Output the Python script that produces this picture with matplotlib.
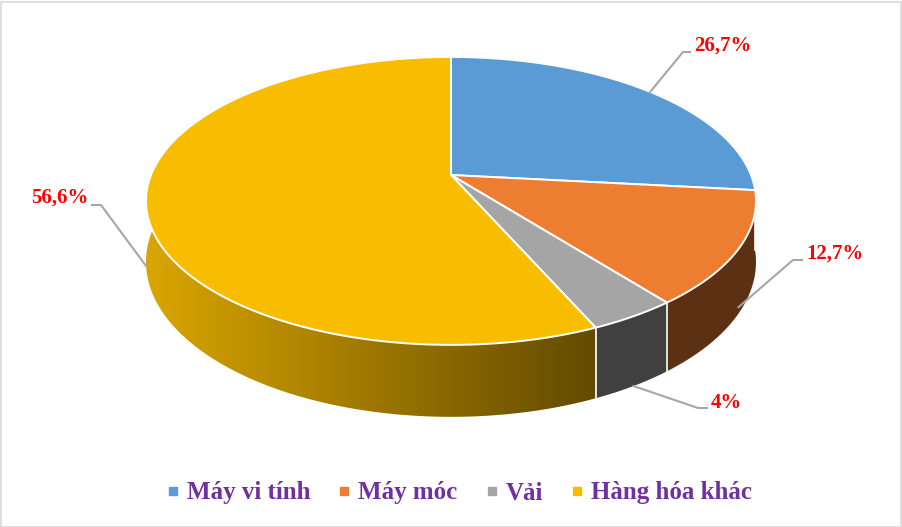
import numpy as np
import matplotlib.pyplot as plt
from matplotlib.patches import Polygon, Rectangle
from matplotlib.lines import Line2D
import matplotlib.colors as mcolors

categories = ['Máy vi tính', 'Máy móc', 'Vải', 'Hàng hóa khác']
shares = [26.7, 12.7, 4.0, 56.6]
labels = ['26,7%', '12,7%', '4%', '56,6%']
colors = ['#5B9BD5', '#ED7D31', '#A5A5A5', '#F9BD00']

# label layout: where the leader touches the slice (0 = top rim, 1 = bottom rim),
# elbow point, end of the short horizontal, text anchor
lab_drop = [0.0, 0.9, 1.0, 1.0]
lab_elbow = [(683, 52), (793, 260), (698, 408), (101, 205)]
lab_end = [(690, 52), (802, 260), (707, 408), (92, 205)]
lab_text = [(694, 46), (806, 254), (711, 403), (89, 198)]
lab_ha = ['left', 'left', 'left', 'right']

# projection of the tilted disk (pixel coordinates)
cx, cy = 451, 175
rx, ry = 300, 139.3
persp = 0.18
depth = 59


def proj(theta, drop=0.0):
    x = np.sin(theta)
    y = -np.cos(theta)
    w = 1 - persp * y
    return cx + rx * x / w, cy + ry * y / w + drop * depth / w


def shade(col, xs):
    f = np.clip(0.87 - 0.47 * (xs - 150) / 440, 0.39, 0.87)
    rgb = np.array(mcolors.to_rgb(col))
    return f[..., None] * rgb


fig = plt.figure(figsize=(9.02, 5.27), dpi=100)
ax = fig.add_axes([0, 0, 1, 1])
ax.set_xlim(0, 902)
ax.set_ylim(527, 0)
ax.axis('off')

fracs = np.array(shares) / sum(shares)
bounds = np.concatenate([[0], np.cumsum(fracs)]) * 2 * np.pi

# side walls with a left-to-right light gradient
lo, hi = np.radians(60), np.radians(300)
for i in range(len(shares)):
    a, b = max(bounds[i], lo), min(bounds[i + 1], hi)
    if b <= a:
        continue
    t = np.linspace(a, b, 300)
    xt, yt = proj(t)
    xb, yb = proj(t, 1)
    pts = list(zip(xt, yt)) + list(zip(xb[::-1], yb[::-1]))
    clip = Polygon(pts, closed=True, facecolor='none', edgecolor='none')
    ax.add_patch(clip)
    x0, x1 = min(xt.min(), xb.min()) - 2, max(xt.max(), xb.max()) + 2
    y0, y1 = min(yt.min(), yb.min()) - 2, max(yt.max(), yb.max()) + 2
    xs = np.linspace(x0, x1, 400)
    img = shade(colors[i], xs)[None, :, :]
    im = ax.imshow(img, extent=(x0, x1, y1, y0), aspect='auto',
                   interpolation='bilinear', zorder=1)
    im.set_clip_path(clip)

# white seams on the wall between front slices
for b in bounds[1:-1]:
    if -np.cos(b) > 0:
        xa, ya = proj(b)
        xb, yb = proj(b, 1)
        ax.plot([xa, xb], [ya, yb], color='white', lw=1.2, zorder=2)

# top faces
for i in range(len(shares)):
    t = np.linspace(bounds[i], bounds[i + 1], 200)
    xs, ys = proj(t)
    pts = [(cx, cy)] + list(zip(xs, ys))
    ax.add_patch(Polygon(pts, closed=True, facecolor=colors[i],
                         edgecolor='white', lw=1.4, joinstyle='round', zorder=3))

ax.set_xlim(0, 902)
ax.set_ylim(527, 0)

# data labels
for i in range(len(shares)):
    mid = (bounds[i] + bounds[i + 1]) / 2
    x0, y0 = proj(mid, lab_drop[i])
    ex, ey = lab_elbow[i]
    fx, fy = lab_end[i]
    ax.plot([x0, ex, fx], [y0, ey, fy], color='#A6A6A6', lw=1.5, zorder=4)
    ax.text(lab_text[i][0], lab_text[i][1], labels[i], ha=lab_ha[i], va='center',
            color='#FF0000', fontsize=15, fontweight='bold',
            family='Liberation Serif', zorder=5)

handles = [Line2D([], [], marker='s', ls='', markersize=5.8, color=c) for c in colors]
ax.legend(handles, categories, loc='center', bbox_to_anchor=(460 / 902, 1 - 493 / 527),
          ncol=4, frameon=False, handletextpad=0.36, columnspacing=1.16,
          handlelength=0.4, labelcolor='#7030A0',
          prop=dict(family='Liberation Serif', weight='bold', size=18))

fig.add_artist(Rectangle((0.5 / 902, 0.5 / 527), 900 / 902, 525 / 527,
                         transform=fig.transFigure, fill=False,
                         edgecolor='#D9D9D9', lw=1.2))

fig.savefig('out.png', dpi=100)
